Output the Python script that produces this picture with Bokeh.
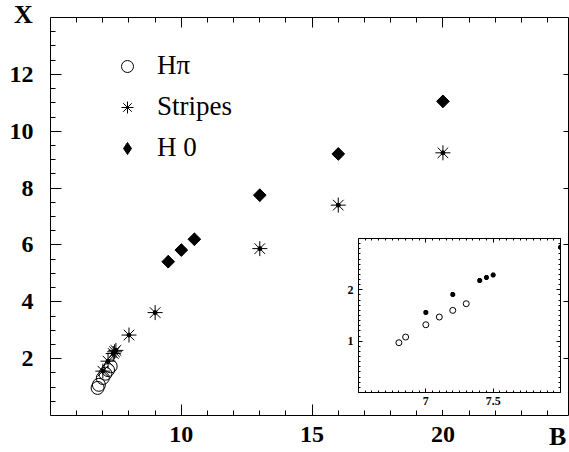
import math
from bokeh.plotting import figure
from bokeh.models import FixedTicker, LinearAxis, Legend, LegendItem, GridBox, Div
from bokeh.embed import file_html
from bokeh.resources import INLINE

# ---------------- data ----------------
hpi_b = [6.8, 6.85, 7.0, 7.1, 7.2, 7.3]
hpi_x = [0.97, 1.08, 1.32, 1.47, 1.60, 1.73]
stripes_b = [7.0, 7.2, 7.4, 7.45, 7.5, 8.0, 9.0, 13.0, 16.0, 20.0]
stripes_x = [1.56, 1.91, 2.18, 2.24, 2.29, 2.83, 3.62, 5.87, 7.40, 9.24]
h0_b = [9.5, 10.0, 10.5, 13.0, 16.0, 20.0]
h0_x = [5.41, 5.82, 6.20, 7.75, 9.20, 11.05]

main_xticks = [10, 15, 20]
main_yticks = [2, 4, 6, 8, 10, 12]
inset_xticks = [7, 7.5]
inset_yticks = [1, 2]

main_x_minor = list(range(6, 25))
main_y_minor = [0.5 * i for i in range(1, 28)]
inset_x_minor = [round(6.5 + 0.05 * i, 3) for i in range(0, 31)]
inset_y_minor = [round(0.1 * i, 2) for i in range(0, 31)]

FONT = "Liberation Serif"


def style_axis(ax, major, minor, labels, size, major_in, minor_in, standoff=0):
    ax.ticker = FixedTicker(ticks=major, minor_ticks=minor)
    ax.major_tick_in = major_in
    ax.major_tick_out = 0
    ax.minor_tick_in = minor_in
    ax.minor_tick_out = 0
    ax.axis_line_color = "black"
    ax.major_tick_line_color = "black"
    ax.minor_tick_line_color = "black"
    ax.axis_line_width = 1
    if labels:
        ax.major_label_text_font = FONT
        ax.major_label_text_font_size = size
        ax.major_label_text_font_style = "bold"
        ax.major_label_text_color = "black"
        ax.major_label_standoff = standoff
    else:
        ax.major_label_text_font_size = "1px"
        ax.major_label_text_color = None
        ax.major_label_standoff = 0


# ---------------- main figure ----------------
p = figure(width=569, height=452, x_range=(5, 24.8), y_range=(0, 14),
           output_backend="svg", toolbar_location=None,
           min_border_left=50, min_border_right=1, min_border_top=17,
           min_border_bottom=37)
p.frame_align = False
p.grid.visible = False
p.outline_line_color = None
p.background_fill_color = "white"
p.border_fill_color = "white"

style_axis(p.xaxis[0], main_xticks, main_x_minor, True, "24px", 11, 5, 11)
style_axis(p.yaxis[0], main_yticks, main_y_minor, True, "24px", 11, 5, 17)
top = LinearAxis()
style_axis(top, main_xticks, main_x_minor, False, "1px", 10, 5)
p.add_layout(top, "above")
right = LinearAxis()
style_axis(right, main_yticks, [], False, "1px", 5, 0)
p.add_layout(right, "right")

r_h = p.scatter(hpi_b, hpi_x, marker="circle", size=13, fill_color=None,
                line_color="black", line_width=1)
r_s = p.scatter(stripes_b, stripes_x, marker="asterisk", size=15,
                line_color="black", line_width=1)
r_sd = p.scatter(stripes_b, stripes_x, marker="circle", size=4,
                 fill_color="black", line_color="black")
# diamond used for the legend swatch (hidden under the rotated squares)
r_dl = p.scatter(h0_b, h0_x, marker="diamond", size=12,
                 fill_color="black", line_color="black")
r_d = p.scatter(h0_b, h0_x, marker="square", size=9, angle=math.pi / 4,
                fill_color="black", line_color="black")

legend = Legend(items=[LegendItem(label="H\u03c0", renderers=[r_h]),
                       LegendItem(label="Stripes", renderers=[r_s]),
                       LegendItem(label="H 0", renderers=[r_dl])],
                location=(47, 252))
legend.margin = 0
legend.padding = 0
legend.glyph_height = 30
legend.glyph_width = 60
legend.label_height = 30
legend.label_standoff = 0
legend.spacing = 10
legend.label_text_font = FONT
legend.label_text_font_size = "27px"
legend.label_text_color = "black"
legend.background_fill_alpha = 0
legend.border_line_color = None
p.add_layout(legend)

# ---------------- inset ----------------
ins = figure(width=222, height=174, x_range=(6.5, 8), y_range=(0, 3),
             output_backend="svg", toolbar_location=None,
             min_border_left=18, min_border_right=2, min_border_top=2,
             min_border_bottom=18, margin=(236, 0, 0, 340))
ins.frame_align = False
ins.grid.visible = False
ins.outline_line_color = None
ins.background_fill_color = "white"
ins.border_fill_color = "white"
style_axis(ins.xaxis[0], inset_xticks, inset_x_minor, True, "12px", 4, 2, 4)
style_axis(ins.yaxis[0], inset_yticks, inset_y_minor, True, "12px", 4, 2, 5)
it = LinearAxis()
style_axis(it, inset_xticks, inset_x_minor, False, "1px", 4, 2)
ins.add_layout(it, "above")
ir = LinearAxis()
style_axis(ir, inset_yticks, inset_y_minor, False, "1px", 4, 2)
ins.add_layout(ir, "right")

ins.scatter(hpi_b, hpi_x, marker="circle", size=6, fill_color=None,
            line_color="black", line_width=1)
ins.scatter(stripes_b, stripes_x, marker="asterisk", size=5,
            line_color="black", line_width=2)

label_style = {"font-family": FONT, "font-weight": "bold", "font-size": "26px",
               "line-height": "1", "color": "black"}
x_label = Div(text="X", width=22, height=28, margin=(2, 0, 0, 14),
              styles=label_style)
b_label = Div(text="B", width=20, height=28, margin=(424, 0, 0, 549),
              styles=label_style)

grid = GridBox(children=[(p, 0, 0), (ins, 0, 0), (x_label, 0, 0), (b_label, 0, 0)])

open("out.html", "w").write(file_html(grid, INLINE))
